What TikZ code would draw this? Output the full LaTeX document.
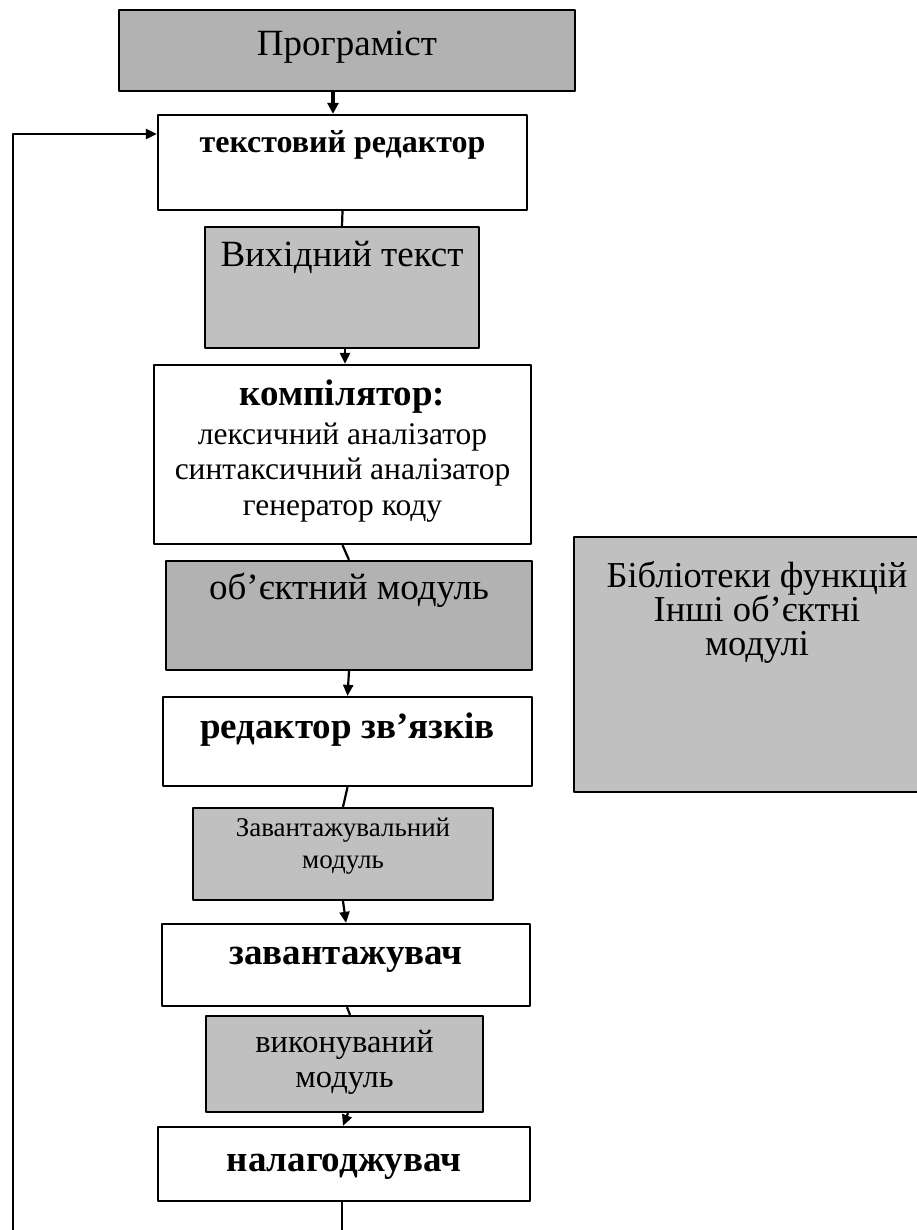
\documentclass[tikz,border=0pt]{standalone}
\usepackage{fontspec}
\setmainfont{Liberation Serif}
\usetikzlibrary{arrows.meta}
\definecolor{boxdark}{HTML}{B2B2B2}
\definecolor{boxlight}{HTML}{C0C0C0}
% box body: width, height, first baseline, text
\newcommand{\cellbody}[4]{\parbox[c][#2pt][t]{#1pt}{\centering\lineskiplimit=-50pt\rule{0pt}{#3pt}#4}}
\newcommand{\fs}[2]{\fontsize{#1pt}{#2pt}\selectfont}
\begin{document}
\begin{tikzpicture}[x=1pt, y=-1pt, line join=round,
	cell/.style={draw, line width=2.3pt, inner sep=0pt},
	darkcell/.style={cell, fill=boxdark},
	lightcell/.style={cell, fill=boxlight},
	whitecell/.style={cell, fill=white},
	link/.style={line width=2.2pt},
	flow/.style={link, -{Triangle[length=11pt,width=10pt]}},
	bigflow/.style={line width=3.6pt, -{Triangle[length=11pt,width=11pt]}}]
	\useasboundingbox (0,0) rectangle (917,1230);
	% main chain
	\node[darkcell] (prog) at (347,50.5) {\cellbody{456}{81}{46}{\fs{37}{42}Програміст}};
	\node[whitecell] (ted) at (342.5,162.5) {\cellbody{369}{95}{38}{\fs{32}{37}\textbf{текстовий редактор}}};
	\node[lightcell] (src) at (342,287.5) {\cellbody{274}{121}{40}{\fs{37}{42}Вихідний текст}};
	\node[whitecell] (comp) at (342.5,454.5) {\cellbody{377}{179}{40.5}{\fs{37}{42}\textbf{компілятор:}\\[3pt]
		\fs{31.5}{35.5}лексичний аналізатор\\синтаксичний аналізатор\\генератор коду}};
	\node[darkcell] (obj) at (349,615.5) {\cellbody{366}{109}{38.5}{\fs{37}{42}об’єктний модуль}};
	\node[whitecell] (lnk) at (347.5,741.5) {\cellbody{369}{89}{41.5}{\fs{37}{42}\textbf{редактор зв’язків}}};
	\node[lightcell] (loadmod) at (343,854) {\cellbody{300}{92}{28.5}{\fs{27}{32}Завантажувальний\\модуль}};
	\node[whitecell] (loader) at (346,965) {\cellbody{368}{82}{40}{\fs{37}{42}\textbf{завантажувач}}};
	\node[lightcell] (exe) at (344.5,1064) {\cellbody{277}{96}{36}{\fs{32.5}{35}виконуваний\\модуль}};
	\node[whitecell] (dbg) at (344,1164) {\cellbody{372}{74}{44.5}{\fs{37}{42}\textbf{налагоджувач}}};
	% side box
	\node[lightcell] (lib) at (757,664.5) {\cellbody{366}{255}{50}{\fs{36.5}{34}Бібліотеки функцій\\Інші об’єктні\\модулі}};
	\coordinate (dbgend) at (342,1232);
	\coordinate (loopstart) at (13,1232);
	% connectors
	\draw[bigflow] ([xshift=-14pt]prog.south) -- ([xshift=-9.5pt]ted.north);
	\draw[link] (ted.south) -- (src.north);
	\draw[flow] ([xshift=3pt]src.south) -- ([xshift=2.5pt]comp.north);
	\draw[link] (comp.south) -- (obj.north);
	\draw[flow] (obj.south) -- (lnk.north);
	\draw[link] (lnk.south) -- (loadmod.north);
	\draw[flow] (loadmod.south) -- (loader.north);
	\draw[link] ([xshift=1pt]loader.south) -- ([xshift=5.5pt]exe.north);
	\draw[flow] ([xshift=3.5pt]exe.south) -- ([xshift=-1pt]dbg.north);
	\draw[link] ([xshift=-2pt]dbg.south) -- (dbgend);
	\draw[flow] (loopstart) |- ([yshift=28.5pt]ted.west);
\end{tikzpicture}
\end{document}
